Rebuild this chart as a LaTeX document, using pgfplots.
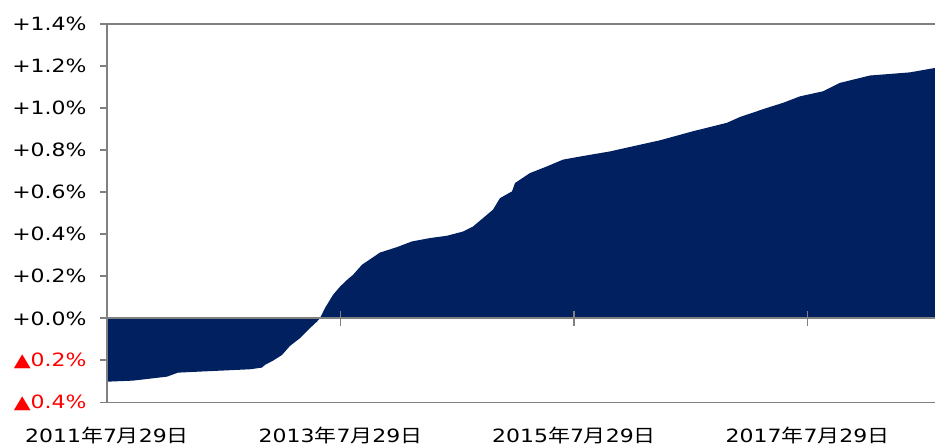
\documentclass[border=0pt]{standalone}
\usepackage{fontspec}
\setmainfont{DejaVu Sans}[FakeStretch=1.2]
\newfontfamily\cjk{Noto Sans CJK JP}[FakeStretch=1.2]
\usepackage{pgfplots}
\pgfplotsset{compat=1.18}
\definecolor{navy}{HTML}{002060}
\definecolor{axgray}{RGB}{128,128,128}
\newcommand{\jdate}[1]{#1{\cjk 年}7{\cjk 月}29{\cjk 日}}
\pgfplotstableread{
x y
0.000 -0.301
0.223 -0.296
0.514 -0.277
0.608 -0.258
0.797 -0.253
1.225 -0.242
1.328 -0.234
1.353 -0.221
1.422 -0.201
1.499 -0.174
1.567 -0.131
1.653 -0.094
1.722 -0.055
1.799 -0.015
1.824 0.001
1.867 0.049
1.936 0.112
1.996 0.151
2.064 0.187
2.107 0.207
2.184 0.255
2.338 0.313
2.484 0.339
2.612 0.366
2.767 0.382
2.912 0.393
3.049 0.413
3.135 0.437
3.221 0.477
3.306 0.517
3.366 0.572
3.469 0.604
3.495 0.644
3.623 0.691
3.769 0.723
3.906 0.755
4.034 0.768
4.308 0.794
4.737 0.847
5.019 0.890
5.310 0.930
5.422 0.958
5.653 1.001
5.790 1.025
5.936 1.056
6.133 1.080
6.278 1.120
6.535 1.155
6.878 1.170
7.092 1.191
}\datatable
\pgfplotsset{
  hbar/.style={fill=axgray, draw=none, forget plot},
}
\begin{document}
\begin{tikzpicture}
\begin{axis}[
  scale only axis, width=828bp, height=378.5bp,
  xmin=0, xmax=7.092, ymin=-0.4, ymax=1.4,
  axis line style={draw=none},
  tick pos=left,
  clip=false,
  ytick={-0.4,-0.2,0,0.2,0.4,0.6,0.8,1.0,1.2,1.4},
  yticklabels={{\textcolor{red}{▲0.4\%}},{\textcolor{red}{▲0.2\%}},{+0.0\%},{+0.2\%},{+0.4\%},{+0.6\%},{+0.8\%},{+1.0\%},{+1.2\%},{+1.4\%}},
  xtick={0,2,4,6},
  xticklabels={\jdate{2011},\jdate{2013},\jdate{2015},\jdate{2017}},
  tick style={draw=none},
  ticklabel style={font=\fontsize{18.3bp}{22bp}\selectfont, text=black},
  xticklabel style={yshift=-21bp},
  yticklabel style={xshift=-17bp},
]
\addplot[fill=navy, draw=none] table[x=x,y=y]{\datatable} \closedcycle;
% axis frame lines (top, bottom, zero, left) as thin filled bands
\addplot[hbar] coordinates {(0,1.3955) (7.092,1.3955) (7.092,1.4045) (0,1.4045)} -- cycle;
\addplot[hbar] coordinates {(0,-0.4045) (7.092,-0.4045) (7.092,-0.3955) (0,-0.3955)} -- cycle;
\addplot[hbar] coordinates {(0,-0.0045) (7.092,-0.0045) (7.092,0.0045) (0,0.0045)} -- cycle;
\addplot[hbar] coordinates {(-0.008,-0.4045) (0.008,-0.4045) (0.008,1.4045) (-0.008,1.4045)} -- cycle;
% x tick marks on the zero line
\addplot[hbar] coordinates {(1.992,-0.036) (2.008,-0.036) (2.008,0.036) (1.992,0.036)} -- cycle;
\addplot[hbar] coordinates {(3.992,-0.036) (4.008,-0.036) (4.008,0.036) (3.992,0.036)} -- cycle;
\addplot[hbar] coordinates {(5.992,-0.036) (6.008,-0.036) (6.008,0.036) (5.992,0.036)} -- cycle;
% y tick marks
\addplot[hbar] coordinates {(-0.060,-0.4045) (0,-0.4045) (0,-0.3955) (-0.060,-0.3955)} -- cycle;
\addplot[hbar] coordinates {(-0.060,-0.2045) (0,-0.2045) (0,-0.1955) (-0.060,-0.1955)} -- cycle;
\addplot[hbar] coordinates {(-0.060,-0.0045) (0,-0.0045) (0,0.0045) (-0.060,0.0045)} -- cycle;
\addplot[hbar] coordinates {(-0.060,0.1955) (0,0.1955) (0,0.2045) (-0.060,0.2045)} -- cycle;
\addplot[hbar] coordinates {(-0.060,0.3955) (0,0.3955) (0,0.4045) (-0.060,0.4045)} -- cycle;
\addplot[hbar] coordinates {(-0.060,0.5955) (0,0.5955) (0,0.6045) (-0.060,0.6045)} -- cycle;
\addplot[hbar] coordinates {(-0.060,0.7955) (0,0.7955) (0,0.8045) (-0.060,0.8045)} -- cycle;
\addplot[hbar] coordinates {(-0.060,0.9955) (0,0.9955) (0,1.0045) (-0.060,1.0045)} -- cycle;
\addplot[hbar] coordinates {(-0.060,1.1955) (0,1.1955) (0,1.2045) (-0.060,1.2045)} -- cycle;
\addplot[hbar] coordinates {(-0.060,1.3955) (0,1.3955) (0,1.4045) (-0.060,1.4045)} -- cycle;
\coordinate (bl) at (rel axis cs:0,0);
\coordinate (tr) at (rel axis cs:1,1);
\end{axis}
\pgfresetboundingbox
\path ([shift={(-107bp,-43.5bp)}]bl) rectangle ([shift={(0bp,24bp)}]tr);
\end{tikzpicture}
\end{document}
